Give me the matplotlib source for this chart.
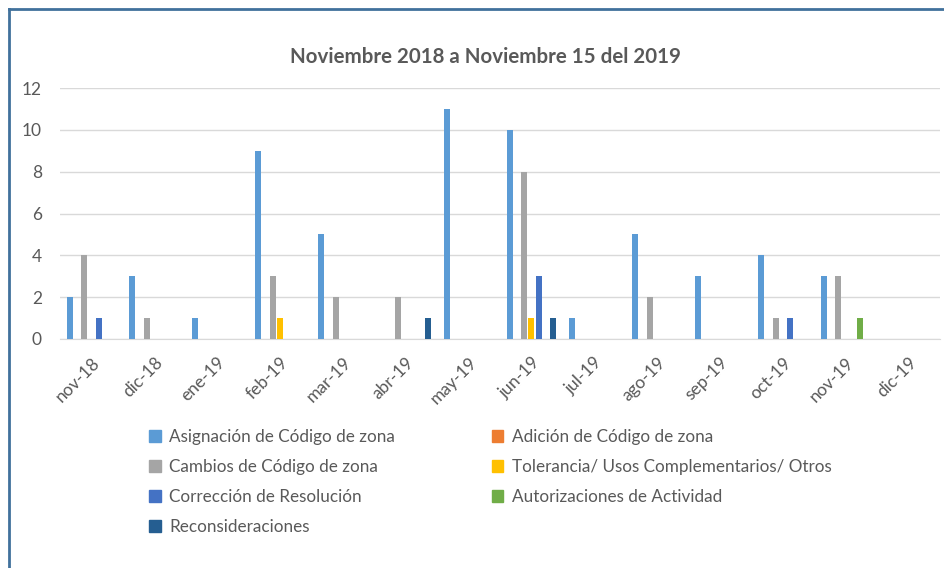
import numpy as np
import matplotlib.pyplot as plt
from matplotlib.patches import Patch

meses = ["nov-18", "dic-18", "ene-19", "feb-19", "mar-19", "abr-19", "may-19",
         "jun-19", "jul-19", "ago-19", "sep-19", "oct-19", "nov-19", "dic-19"]

asignacion = [2, 3, 1, 9, 5, 0, 11, 10, 1, 5, 3, 4, 3, 0]
adicion = [0, 0, 0, 0, 0, 0, 0, 0, 0, 0, 0, 0, 0, 0]
cambios = [4, 1, 0, 3, 2, 2, 0, 8, 0, 2, 0, 1, 3, 0]
tolerancia = [0, 0, 0, 1, 0, 0, 0, 1, 0, 0, 0, 0, 0, 0]
correccion = [1, 0, 0, 0, 0, 0, 0, 3, 0, 0, 0, 1, 0, 0]
autorizaciones = [0, 0, 0, 0, 0, 0, 0, 0, 0, 0, 0, 0, 1, 0]
reconsideraciones = [0, 0, 0, 0, 0, 1, 0, 1, 0, 0, 0, 0, 0, 0]

series = [
    ("Asignación de Código de zona", asignacion, "#5B9BD5"),
    ("Adición de Código de zona", adicion, "#ED7D31"),
    ("Cambios de Código de zona", cambios, "#A5A5A5"),
    ("Tolerancia/ Usos Complementarios/ Otros", tolerancia, "#FFC000"),
    ("Corrección de Resolución", correccion, "#4472C4"),
    ("Autorizaciones de Actividad", autorizaciones, "#70AD47"),
    ("Reconsideraciones", reconsideraciones, "#255E91"),
]

plt.rcParams['font.family'] = ['Lato', 'DejaVu Sans']
txt = "#595959"

fig = plt.figure(figsize=(9.44, 5.68), dpi=100)
ax = fig.add_axes([0.0636, 0.4032, 0.9322, 0.4418])

x = np.arange(len(meses))
slot = 0.116
for i, (name, vals, col) in enumerate(series):
    vals = np.array(vals, dtype=float)
    h = np.where(vals > 0, vals, np.nan)
    ax.bar(x + (i - 3) * slot, h, width=slot * 0.82, color=col, zorder=3)

ax.set_xlim(-0.5, len(meses) - 0.5)
ax.set_ylim(0, 12)
ax.set_yticks(range(0, 13, 2))
ax.grid(axis='y', color="#D9D9D9", linewidth=1, zorder=0)
for s in ["top", "right", "left"]:
    ax.spines[s].set_visible(False)
ax.spines["bottom"].set_color("#D9D9D9")
ax.tick_params(length=0, colors=txt, labelsize=12.5)
ax.tick_params(axis='y', pad=13)
ax.set_xticks(x)
ax.set_xticklabels(meses, rotation=45, ha='right', rotation_mode='anchor')
ax.tick_params(axis='x', pad=11)

fig.text(0.514, 0.9, "Noviembre 2018 a Noviembre 15 del 2019", ha='center', va='center',
         fontsize=14.8, fontweight='bold', color=txt)

order = [0, 2, 4, 6, 1, 3, 5]
handles = [Patch(color=series[k][2]) for k in order]
labels = [series[k][0] for k in order]
leg = fig.legend(handles, labels, ncol=2, loc='upper left', bbox_to_anchor=(0.142, 0.272),
                 frameon=False, fontsize=12.3, handlelength=0.65, handleheight=0.65,
                 handletextpad=0.5, labelspacing=0.82, columnspacing=5.7)
for t in leg.get_texts():
    t.set_color(txt)

# marco del gráfico
fig.add_artist(plt.Line2D([0.0095, 1.0], [1 - 9 / 568, 1 - 9 / 568], color="#41719C", linewidth=2))
fig.add_artist(plt.Line2D([0.0095, 0.0095], [0, 1 - 9 / 568], color="#41719C", linewidth=2))

fig.savefig("out.png", dpi=100)
